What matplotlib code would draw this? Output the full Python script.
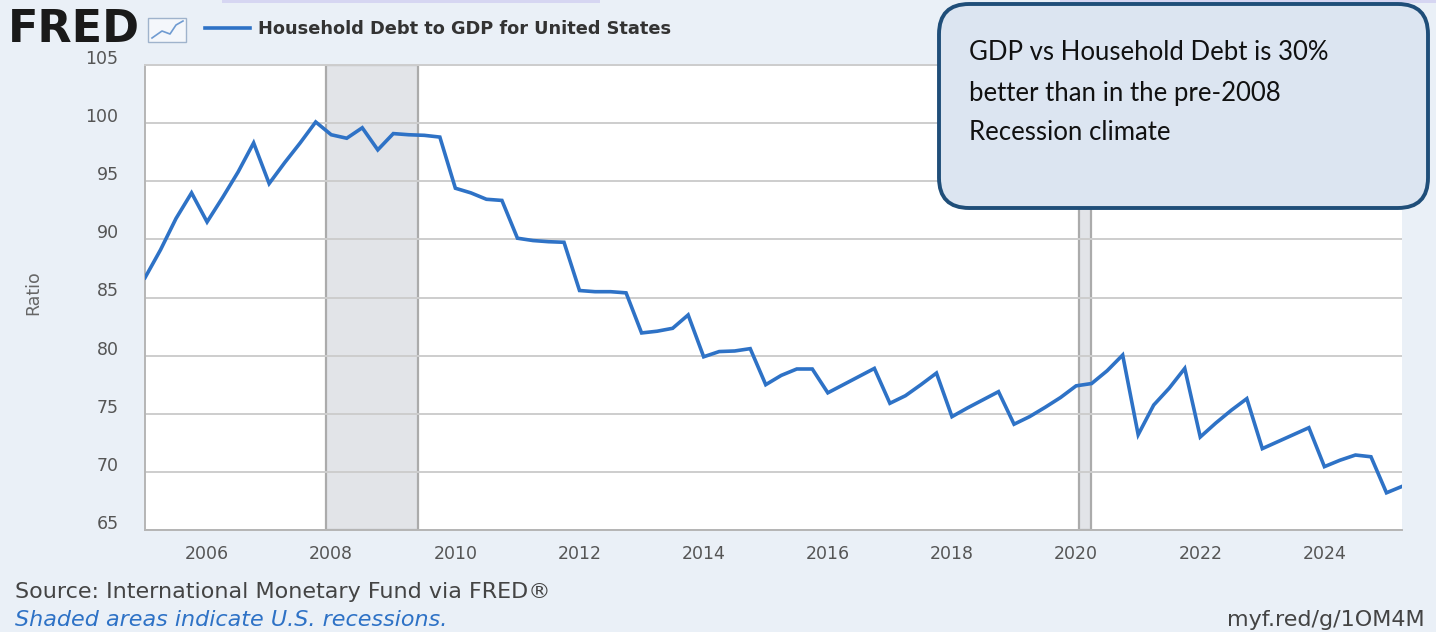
import matplotlib
matplotlib.use("Agg")
import matplotlib.pyplot as plt
import numpy as np
from matplotlib.patches import FancyBboxPatch, Rectangle
from matplotlib.lines import Line2D
from matplotlib.transforms import ScaledTranslation

# ---------------- data ----------------
start_year = 2005
ratio = [
    86.7, 89.1, 91.8, 94.0,     # 2005
    91.5, 93.6, 95.8, 98.3,     # 2006
    94.8, 96.6, 98.3, 100.1,    # 2007
    99.0, 98.7, 99.6, 97.7,     # 2008
    99.1, 99.0, 98.95, 98.8,    # 2009
    94.4, 94.0, 93.45, 93.35,   # 2010
    90.1, 89.9, 89.8, 89.75,    # 2011
    85.6, 85.5, 85.5, 85.4,     # 2012
    81.95, 82.1, 82.35, 83.5,   # 2013
    79.9, 80.35, 80.4, 80.6,    # 2014
    77.5, 78.3, 78.85, 78.85,   # 2015
    76.8, 77.5, 78.2, 78.9,     # 2016
    75.9, 76.55, 77.5, 78.5,    # 2017
    74.75, 75.5, 76.2, 76.9,    # 2018
    74.1, 74.75, 75.55, 76.4,   # 2019
    77.4, 77.6, 78.7, 80.05,    # 2020
    73.2, 75.75, 77.2, 78.9,    # 2021
    73.0, 74.2, 75.3, 76.3,     # 2022
    72.0, 72.6, 73.2, 73.8,     # 2023
    70.45, 71.0, 71.45, 71.3,   # 2024
    68.2, 68.75,                # 2025
]
quarters = start_year + np.arange(len(ratio)) * 0.25

recession_start = [2007.92, 2020.05]
recession_end = [2009.40, 2020.24]

x_ticks = [2006, 2008, 2010, 2012, 2014, 2016, 2018, 2020, 2022, 2024]
y_ticks = [65, 70, 75, 80, 85, 90, 95, 100, 105]

series_name = "Household Debt to GDP for United States"
y_label = "Ratio"
source_text = "Source: International Monetary Fund via FRED\u00ae"
shade_text = "Shaded areas indicate U.S. recessions."
link_text = "myf.red/g/1OM4M"
note_lines = ["GDP vs Household Debt is 30%",
              "better than in the pre-2008",
              "Recession climate"]

# ---------------- figure ----------------
plt.rcParams["font.family"] = ["DejaVu Sans"]
W, H = 1436, 632
BG = "#EAF0F7"
LINE = "#2E72C6"
fig = plt.figure(figsize=(W / 100, H / 100), dpi=100, facecolor=BG)

ax = fig.add_axes([145 / W, 1 - 530 / H, (1402 - 145) / W, (530 - 65) / H])
ax.set_facecolor("white")

for s, e in zip(recession_start, recession_end):
    ax.axvspan(s, e, facecolor="#E2E4E8", edgecolor="#ABABAB", linewidth=1.6, zorder=1)

line, = ax.plot(quarters, ratio, color=LINE, linewidth=2.6, zorder=3,
                solid_joinstyle="miter")

ax.set_xlim(2005.0, 2025.25)
ax.set_ylim(65, 105)
ax.set_xticks(x_ticks)
ax.set_yticks(y_ticks)
ax.grid(axis="y", color="#CDCDCD", linewidth=1.4, zorder=0)
ax.grid(axis="x", visible=False)
ax.spines["right"].set_visible(False)
ax.spines["top"].set_color("#CDCDCD")
ax.spines["top"].set_linewidth(1.4)
for side in ["left", "bottom"]:
    ax.spines[side].set_color("#B5B5B5")
    ax.spines[side].set_linewidth(1.4)

ax.tick_params(axis="both", length=0, labelsize=12.5, labelcolor="#555555")
ax.tick_params(axis="y", pad=19)
ax.tick_params(axis="x", pad=11)
for lbl in ax.get_yticklabels():
    lbl.set_transform(lbl.get_transform() + ScaledTranslation(0, 0.08, fig.dpi_scale_trans))

fig.text(33 / W, 1 - 293 / H, y_label, rotation=90, ha="center", va="center",
         fontsize=12.5, color="#666666")

# ---------------- header ----------------
fig.text(8 / W, 1 - 30 / H, "FRED", fontsize=32, fontweight="heavy", color="#1A1A1A",
         ha="left", va="center")
# small chart icon
fig.patches.append(Rectangle((148 / W, 1 - 42 / H), 38 / W, 24 / H, transform=fig.transFigure,
                             facecolor="#F4F7FB", edgecolor="#9FB3CC", linewidth=1.0))
fig.lines.append(Line2D([152 / W, 162 / W, 170 / W, 176 / W, 183 / W],
                        [1 - 38 / H, 1 - 31 / H, 1 - 34 / H, 1 - 25 / H, 1 - 21 / H],
                        transform=fig.transFigure, color="#6F9BD1", linewidth=1.2))

leg = fig.legend(handles=[line], labels=[series_name], loc="center left",
                 bbox_to_anchor=(198 / W, 1 - 29 / H), frameon=False,
                 handlelength=2.5, handletextpad=0.45, borderaxespad=0,
                 prop={"size": 12.8, "weight": "bold"})
for t in leg.get_texts():
    t.set_color("#333333")

# decorative top bars from the screenshot
fig.patches.append(Rectangle((222 / W, 1 - 3 / H), 378 / W, 3 / H, transform=fig.transFigure,
                             facecolor="#D6D6F2", edgecolor="none"))
fig.patches.append(Rectangle((1060 / W, 1 - 3 / H), 376 / W, 3 / H, transform=fig.transFigure,
                             facecolor="#D6D6F2", edgecolor="none"))

# ---------------- footer ----------------
fig.text(15 / W, 1 - 592 / H, source_text, fontsize=16, color="#444444", ha="left", va="center")
fig.text(15 / W, 1 - 620 / H, shade_text, fontsize=16, color="#2E72C6", style="italic",
         ha="left", va="center")
fig.text(1425 / W, 1 - 620 / H, link_text, fontsize=16, color="#444444", ha="right", va="center")

# ---------------- annotation box ----------------
box = FancyBboxPatch((939 / W, 1 - 208 / H), (1428 - 939) / W, (208 - 4) / H,
                     boxstyle="round,pad=0,rounding_size=0.021",
                     transform=fig.transFigure, facecolor="#DCE5F1",
                     edgecolor="#1F4E79", linewidth=2.8, zorder=5,
                     mutation_aspect=W / H)
fig.patches.append(box)
for i, txt in enumerate(note_lines):
    fig.text(969 / W, 1 - (53 + 40 * i) / H, txt, fontsize=18.5, color="#111111",
             family="Lato", ha="left", va="center", zorder=6)

fig.savefig("out.png", dpi=100, facecolor=BG)
